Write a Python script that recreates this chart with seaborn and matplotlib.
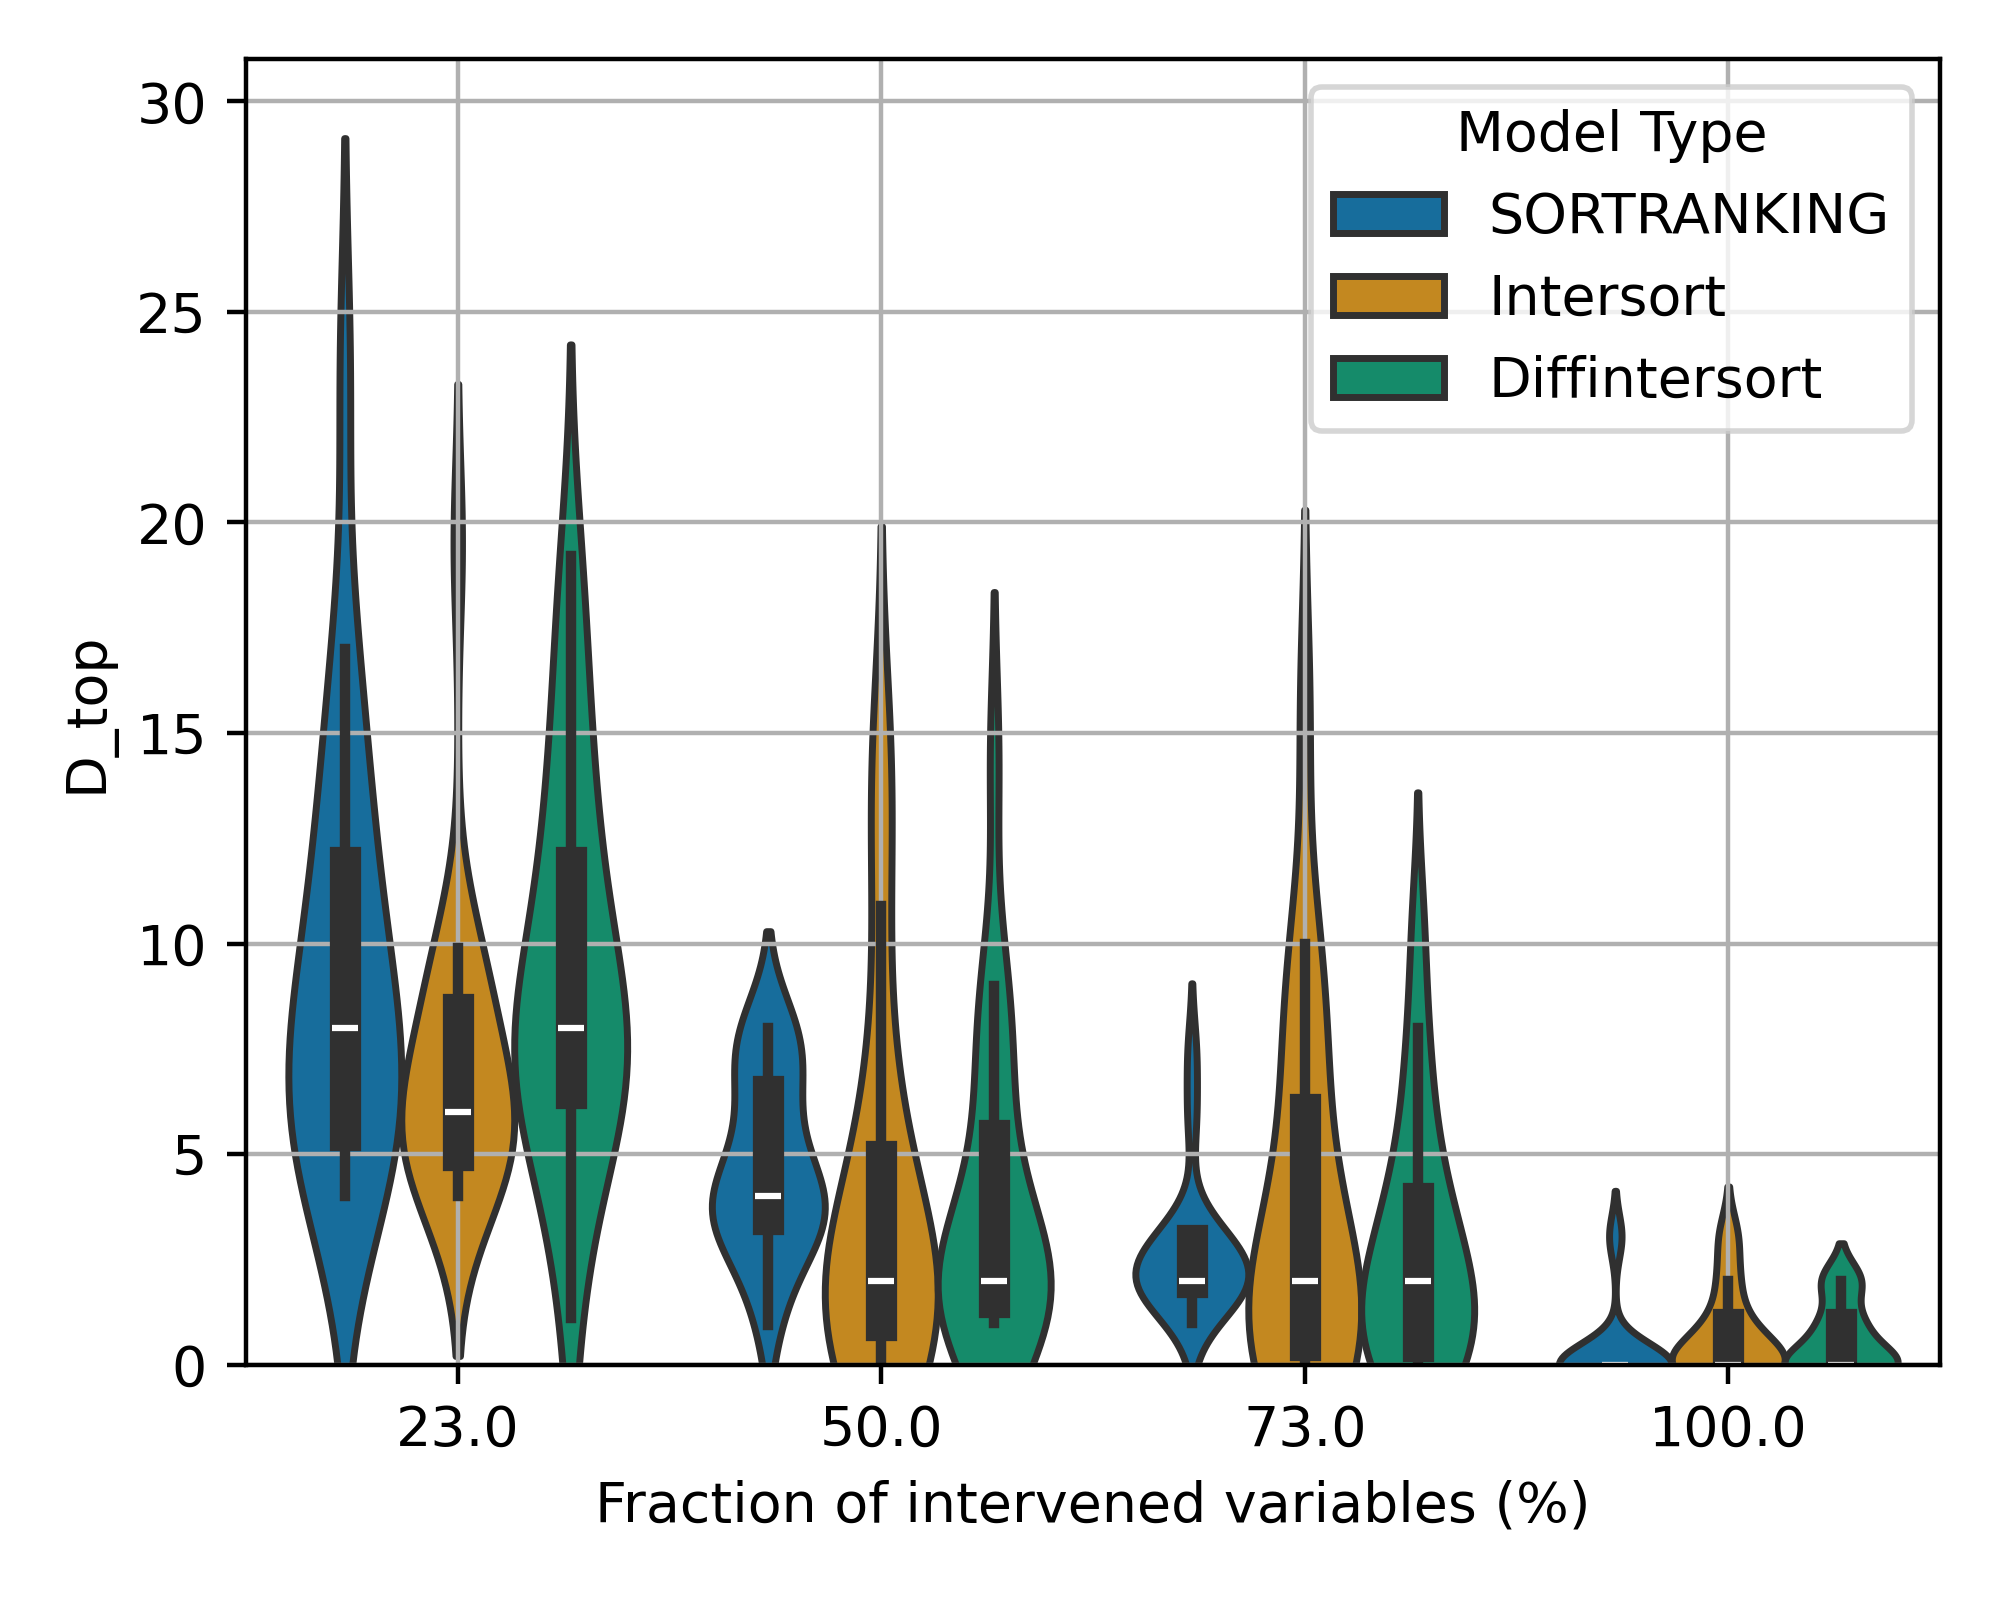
# Violin plot of D_top per fraction of intervened variables, split by model type.

import matplotlib

matplotlib.use("Agg")

import matplotlib.pyplot as plt
import pandas as pd
import seaborn as sns

# Categories
FRACTIONS = [23.0, 50.0, 73.0, 100.0]
MODELS = ["SORTRANKING", "Intersort", "Diffintersort"]

# D_top samples per (fraction, model)
sortranking_23 = [4.0, 4.4, 4.8, 5.1, 5.4, 5.47, 6.2, 6.9, 7.5, 8.0,
                  8.0, 8.8, 9.6, 10.7, 11.8, 12.4, 13.8, 15.4, 17.0, 23.6]
intersort_23 = [4.0, 4.3, 4.6, 4.8, 4.93, 5.0, 5.3, 5.5, 5.8, 6.0,
                6.0, 6.4, 6.9, 7.6, 8.3, 8.9, 9.3, 9.6, 9.9, 19.5]
diffintersort_23 = [1.1, 3.6, 5.0, 5.9, 6.4, 6.47, 6.9, 7.3, 7.7, 8.0,
                    8.0, 8.7, 9.6, 10.7, 11.8, 12.4, 13.8, 15.4, 17.2, 19.2]

sortranking_50 = [0.95, 1.9, 2.6, 3.1, 3.4, 3.47, 3.6, 3.75, 3.9, 4.0,
                  4.0, 4.6, 5.2, 5.8, 6.3, 7.1, 7.4, 7.7, 7.9, 8.0]
intersort_50 = [0.0, 0.0, 0.3, 0.6, 0.9, 0.97, 1.2, 1.5, 1.8, 2.0,
                2.0, 2.5, 3.1, 3.9, 4.7, 5.7, 7.5, 10.9, 13.5, 15.0]
diffintersort_50 = [1.0, 1.1, 1.2, 1.3, 1.43, 1.5, 1.6, 1.75, 1.9, 2.0,
                    2.0, 2.4, 3.0, 4.0, 5.1, 6.5, 7.7, 8.4, 9.0, 14.4]

sortranking_73 = [1.0, 1.3, 1.6, 1.8, 1.94, 1.96, 1.98, 1.99, 2.0, 2.0,
                  2.0, 2.2, 2.5, 2.8, 2.95, 3.0, 3.0, 3.0, 5.9, 7.4]
intersort_73 = [0.0, 0.0, 0.0, 0.2, 0.4, 0.5, 0.8, 1.2, 1.6, 2.0,
                2.0, 2.6, 3.5, 4.6, 5.7, 7.2, 8.2, 9.1, 10.0, 15.6]
diffintersort_73 = [0.0, 0.0, 0.0, 0.2, 0.4, 0.47, 0.9, 1.2, 1.6, 2.0,
                    2.0, 2.4, 2.9, 3.4, 3.8, 4.4, 5.4, 6.6, 8.0, 10.4]

sortranking_100 = [0.0] * 18 + [3.0, 3.1]
intersort_100 = [0.0] * 11 + [0.3, 0.6, 0.9, 0.9, 1.15, 2.0, 2.0, 3.0, 3.1]
diffintersort_100 = [0.0] * 11 + [0.5, 0.9, 0.9, 0.9, 1.15, 2.0, 2.0, 2.0, 2.0]

SAMPLES = {
    (23.0, "SORTRANKING"): sortranking_23,
    (23.0, "Intersort"): intersort_23,
    (23.0, "Diffintersort"): diffintersort_23,
    (50.0, "SORTRANKING"): sortranking_50,
    (50.0, "Intersort"): intersort_50,
    (50.0, "Diffintersort"): diffintersort_50,
    (73.0, "SORTRANKING"): sortranking_73,
    (73.0, "Intersort"): intersort_73,
    (73.0, "Diffintersort"): diffintersort_73,
    (100.0, "SORTRANKING"): sortranking_100,
    (100.0, "Intersort"): intersort_100,
    (100.0, "Diffintersort"): diffintersort_100,
}

rows = []
for (fraction, model), values in SAMPLES.items():
    for v in values:
        rows.append({"Fraction": fraction, "Model Type": model, "D_top": v})
df = pd.DataFrame(rows)

fig = plt.figure(figsize=(5, 4), dpi=400)
ax = fig.add_axes([0.123, 0.147, 0.847, 0.816])

sns.violinplot(
    data=df,
    x="Fraction",
    y="D_top",
    hue="Model Type",
    order=FRACTIONS,
    hue_order=MODELS,
    palette="colorblind",
    density_norm="width",
    inner="box",
    ax=ax,
)

ax.grid(True)
ax.set_ylim(0, 31)
ax.set_xlabel("Fraction of intervened variables (%)")
ax.set_ylabel("D_top")
ax.legend(title="Model Type", loc="upper right")

plt.savefig("out.png", dpi=400)
plt.close()
